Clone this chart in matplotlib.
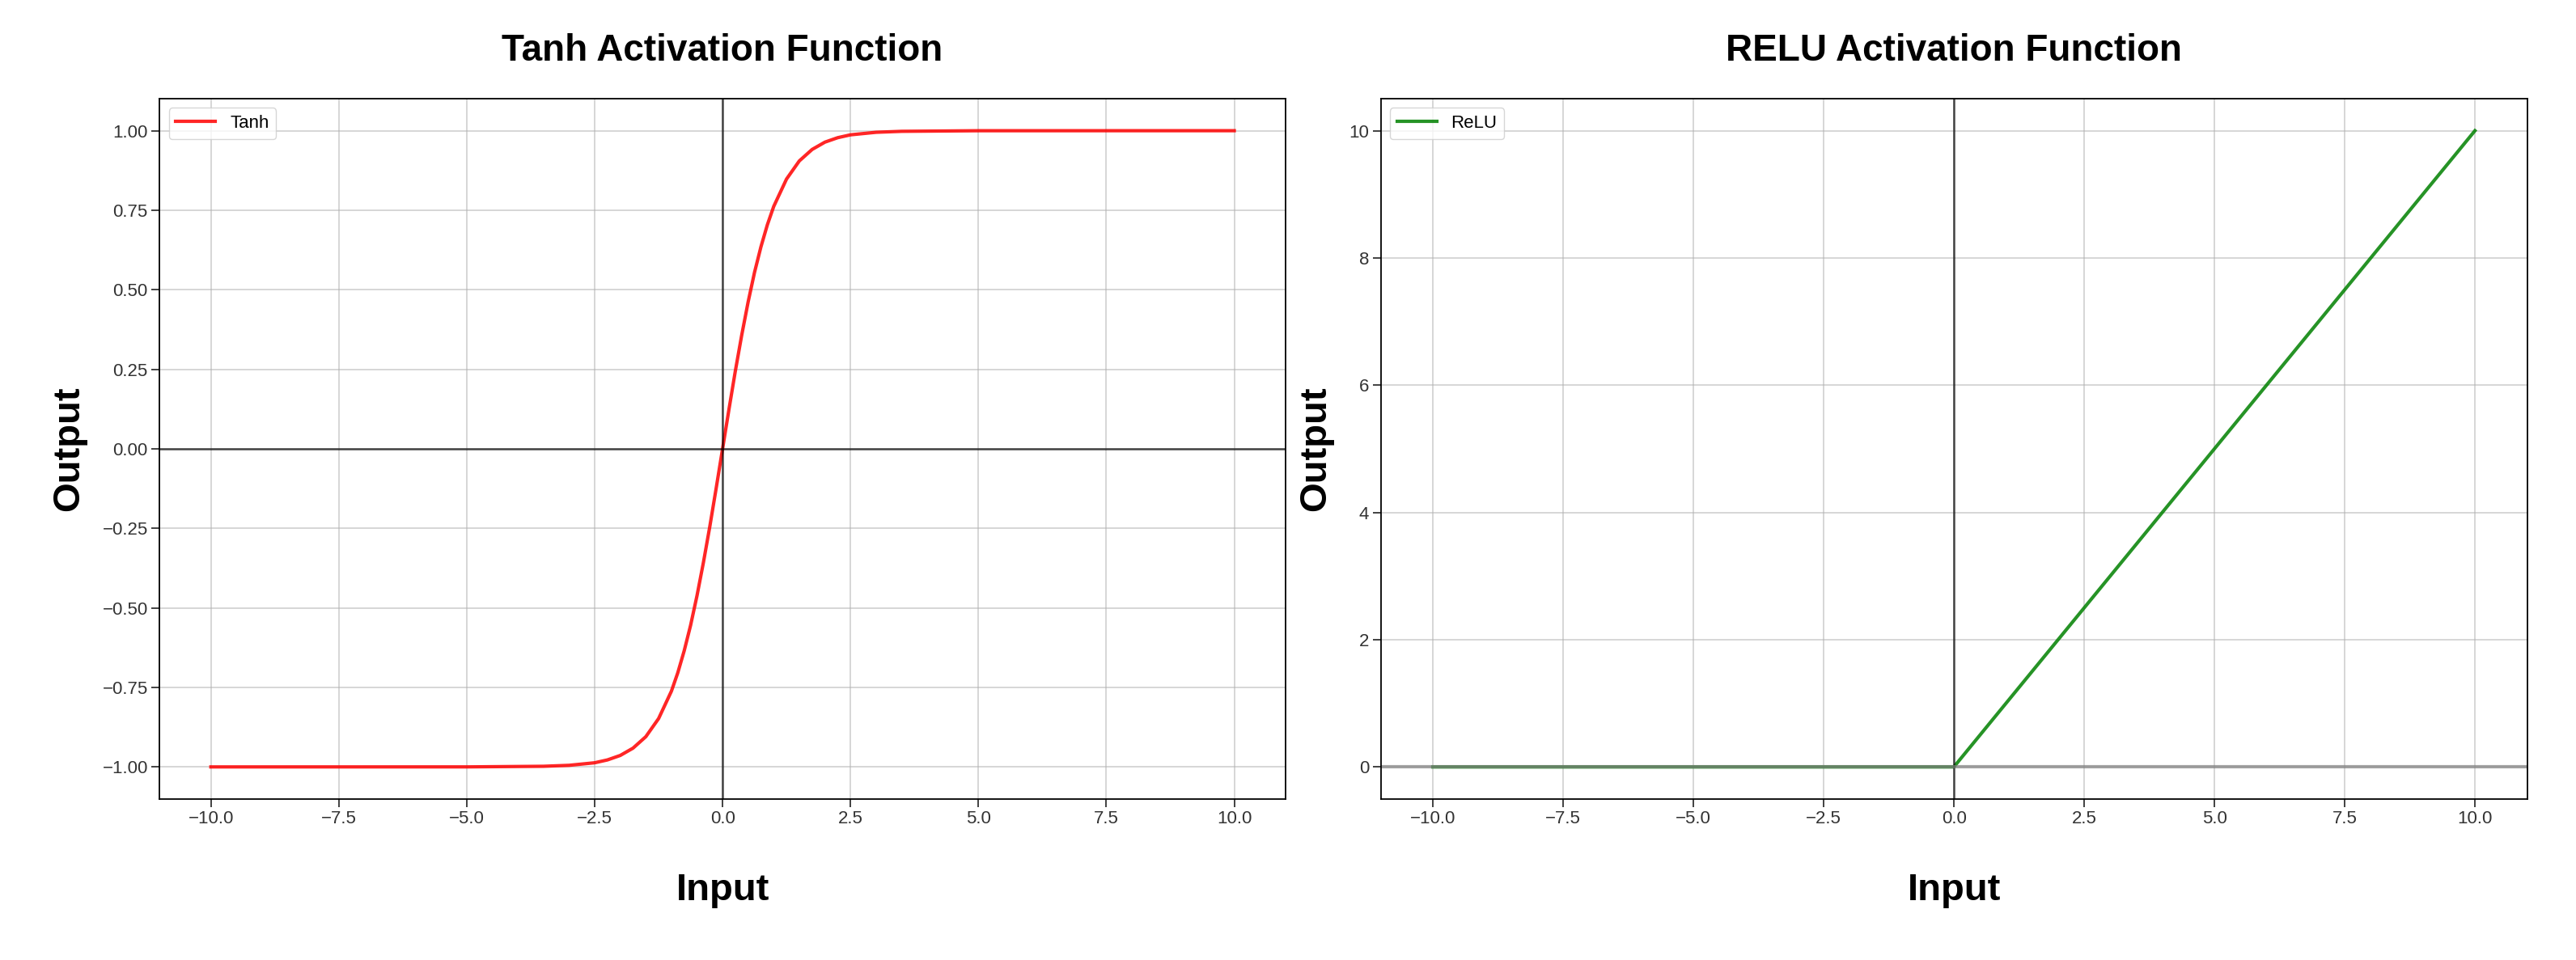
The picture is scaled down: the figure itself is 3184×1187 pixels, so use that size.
import matplotlib.pyplot as plt

plt.rcParams['font.family'] = ['Liberation Sans', 'DejaVu Sans']

# values
tanh_x = [-10.0, -5.0, -3.5, -3.0, -2.5, -2.25, -2.0, -1.75, -1.5, -1.25, -1.0, -0.875, -0.75, -0.625, -0.5, -0.375, -0.25, -0.125, 0.0,
          0.125, 0.25, 0.375, 0.5, 0.625, 0.75, 0.875, 1.0, 1.25, 1.5, 1.75, 2.0, 2.25, 2.5, 3.0, 3.5, 5.0, 10.0]
tanh_y = [-1.0, -0.9999, -0.998, -0.995, -0.987, -0.978, -0.964, -0.941, -0.905, -0.848, -0.762, -0.704, -0.635, -0.555, -0.462, -0.358, -0.245, -0.124, 0.0,
          0.124, 0.245, 0.358, 0.462, 0.555, 0.635, 0.704, 0.762, 0.848, 0.905, 0.941, 0.964, 0.978, 0.987, 0.995, 0.998, 0.9999, 1.0]
relu_x = [-10.0, 0.0, 10.0]
relu_y = [0.0, 0.0, 10.0]

fig = plt.figure(figsize=(31.84, 11.87), dpi=100)
ax1 = fig.add_axes([0.062, 0.168, 0.437, 0.729])
ax2 = fig.add_axes([0.536, 0.168, 0.445, 0.729])

panels = [
    (ax1, tanh_x, tanh_y, 'red', 'Tanh', 'Tanh Activation Function'),
    (ax2, relu_x, relu_y, 'green', 'ReLU', 'RELU Activation Function'),
]
for ax, xs, ys, col, lab, title in panels:
    ax.plot(xs, ys, color=col, lw=3, label=lab, alpha=0.85)
    ax.axvline(0, color='black', lw=1.8, alpha=0.7)
    ax.axhline(0, color='black' if ax is ax1 else 'grey', lw=1.8 if ax is ax1 else 3, alpha=0.7)
    ax.grid(True, lw=1.2, alpha=0.6)
    ax.set_title(title, fontsize=33, fontweight='bold', pad=34)
    ax.set_xlabel('Input', fontsize=34, fontweight='bold', labelpad=40)
    ax.set_ylabel('Output', fontsize=34, fontweight='bold', labelpad=14)
    ax.tick_params(labelsize=16, length=7, width=1.3, colors='#333333')
    ax.legend(loc='upper left', fontsize=16, handlelength=2.2)
    for s in ax.spines.values():
        s.set_linewidth(1.3)

fig.savefig('out.png', dpi=100)
